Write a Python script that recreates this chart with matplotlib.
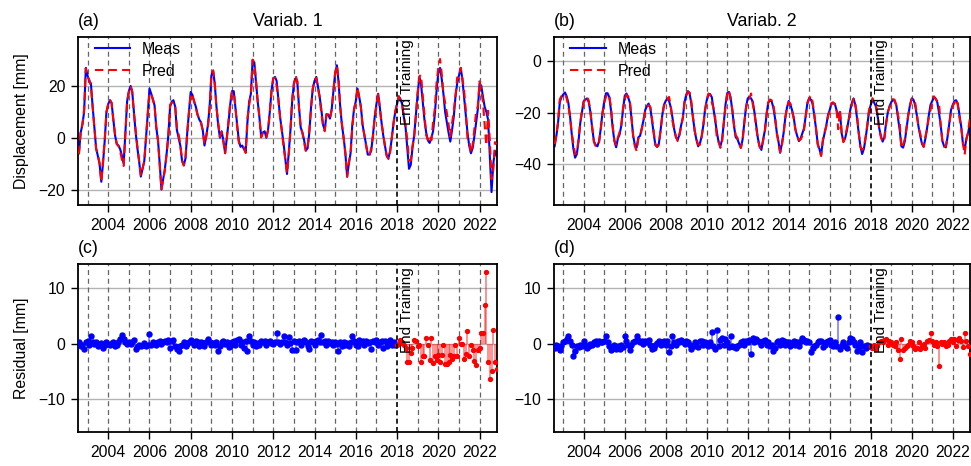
import numpy as np
import pandas as pd
import matplotlib
matplotlib.use("Agg")
import matplotlib.pyplot as plt
import matplotlib.dates as mdates

plt.rcParams['font.family'] = ['Liberation Sans', 'DejaVu Sans']
plt.rcParams['font.size'] = 11.3

# ---------------- data (monthly, Aug 2002 - Nov 2022) ----------------
dates = pd.date_range('2002-08-01', '2022-11-01', freq='MS')
end_training = pd.Timestamp('2018-01-01')

meas_1 = [
    -6, 2, 5, 10, 27,
    24, 22, 21, 12, 4, -4, -7, -10, -17, -10, -1, 10,
    13, 14.5, 13.5, 7, 1, -2.5, -3, -4.5, -7, -10, 2, 14,
    18, 20, 18, 10, 2, -4, -9, -15, -12, -9, 0, 9,
    19, 17, 15, 12.5, 4, -1, -10, -20, -16, -12, -6, 1,
    12, 14, 14.5, 12, 3, 0, -3, -9, -10.5, -8, 2, 10,
    17.7, 16.5, 14, 12, 9, 7, 6, 3, -3, 0.5, 5, 12,
    24, 26, 21, 12, 5, 0, 2.5, -1, -6, 0, 6, 13,
    18, 18, 12, 5, -1, -3.5, -3, -4.5, -5.4, 6, 14, 17,
    30, 29, 22, 14, 8, 0.5, 2, 2.5, 0, 3, 10, 18,
    23, 23.5, 22, 15, 8, 3, -2, -8, -14, -6, 3, 14,
    21, 23, 22, 12, 4, 2, -1, -5, -4, 2, 12, 19,
    22, 23.5, 20, 16, 11, 5, 3, 9, 9, 7.4, 11, 18,
    25, 28, 22, 12, 5, 0, -6, -15, -10, -6, 5, 11,
    14, 19, 16, 12, 5, 1, -2.5, -6.5, -6.5, -5, 1, 8,
    13, 17, 12, 6, 1, -3, -7, -8, -5, 0, 6, 10,
    13, 16, 15, 13, 8, 4, -4, -12, -10.5, -4, 1, 9,
    17, 23.5, 21, 14, 7, 2, -1, -2, 0, 2.5, 9, 18,
    25, 27, 23, 17, 10, 6, 2, -1.5, 3, 8, 16, 21,
    24, 27, 23, 16, 9, 2, -3, -6, -4, 0.5, 6, 11,
    21, 20, 16, 12, 10, 7, -7, -21, -10, -5, -7,
]

resid_1 = [
    0.3, -0.4, -0.2, -1.0, 0.2,
    0.4, -0.3, 1.3, 0.2, -0.1, 0.3, -0.5, -0.2, 0.1, -0.8, -0.3, 0.2,
    0.0, -0.2, 0.1, 0.3, -0.4, -0.2, 0.2, 0.8, 1.6, 0.9, 0.2, -0.1,
    0.3, 0.0, 0.2, 0.6, -1.0, -0.6, -0.3, -0.5, -0.2, 0.1, -0.4, -0.2,
    1.7, -0.2, 0.3, 0.1, -0.3, 0.2, 0.4, -0.1, 0.3, 0.5, 0.2, 0.6,
    -0.8, 0.5, 0.7, -0.5, -0.9, -1.3, -0.4, -0.2, 0.3, -0.4, -0.1, 0.2,
    0.6, 0.3, -0.2, 0.5, 0.2, -0.4, 0.3, 0.1, -0.5, 0.2, 0.9, 0.2,
    -0.3, 0.1, -0.2, 0.3, -1.3, -0.4, 0.2, 0.5, -0.1, 0.3, -0.6, -0.5,
    0.2, 0.4, -0.3, 0.6, 0.8, -0.2, 0.3, -0.8, 0.5, -1.3, 1.3, 0.4,
    -0.2, 0.3, -0.4, 0.1, -0.2, 0.4, 0.2, 0.5, -0.3, 0.2, 0.4, 0.1,
    0.0, 0.3, 1.9, 0.2, -0.1, 0.3, 1.4, 0.2, -0.3, 1.2, 0.1, -1.1,
    0.4, -1.1, 0.3, 0.5, -0.2, 0.2, 0.6, 0.3, -0.4, -1.0, 0.5, 0.2,
    -0.3, 0.4, 0.6, 0.2, 1.6, 0.3, 0.5, -0.2, 0.4, 0.1, 0.3, -0.3,
    0.2, 0.0, -1.3, 0.2, -0.4, 0.3, -0.2, 0.1, -0.5, 0.2, 1.3, 0.4,
    -0.2, -0.5, 0.6, 0.2, 0.4, -0.3, 0.5, 0.1, 0.3, -1.0, 0.4, 0.2,
    0.6, -0.3, 0.3, 0.5, -0.8, 0.4, -0.4, 0.2, 0.6, -0.2, 0.3, -0.3,
    -0.2, 0.0, 0.7, 0.3, -0.2, -0.8, -3.3, -3.3, -1.7, -0.8, 0.7, 0.4,
    -0.5, -0.2, -3.3, -2.3, -2.2, 1.0, -0.2, -3.0, 1.0, -3.5, -2.3, -3.0,
    -2.0, -3.4, -2.0, -0.2, -3.6, -3.6, -3.3, -2.0, -2.7, -2.2, -0.2, -2.3,
    1.0, 0.0, 0.0, -2.7, -1.9, 2.2, -2.2, -0.2, -1.1, -3.1, -3.9, -1.1,
    -0.8, 2.0, 2.0, 7.0, 13.0, -3.4, -6.4, -5.0, 2.5, -3.3, -4.5,
]

meas_2 = [
    -33, -29, -24, -16, -14,
    -13, -12.2, -13.5, -16, -21, -28, -34, -37.4, -36, -31, -24, -19.7,
    -15.5, -15, -14.5, -16, -20, -26, -31, -32.5, -33, -31, -26, -20,
    -15.8, -12.5, -12.5, -14, -19, -26, -31, -33.4, -30, -28.5, -25, -19,
    -13.5, -12.6, -14, -16, -22, -29, -32.5, -33.5, -29.5, -29, -26, -23,
    -19, -17.5, -16.5, -18, -23, -28, -32.5, -33.2, -32, -27, -21, -17,
    -15.5, -14.5, -15.5, -18, -22, -26.5, -29.5, -30.6, -28.5, -25, -22, -16,
    -13, -11.7, -12.5, -16.5, -22, -27, -30.5, -33, -32, -29.3, -25, -19,
    -15.2, -13, -12.8, -14, -18.5, -23, -27.5, -31.5, -33, -30.5, -24, -17,
    -12.5, -12, -13.9, -19, -25, -29.5, -30.2, -32, -33.5, -30.5, -24, -18,
    -14.5, -14, -14.5, -15.8, -20, -25, -30, -33, -34.4, -30.5, -27, -21,
    -16, -15.4, -15.5, -18, -22, -27.5, -31, -35.5, -32, -28, -22, -18,
    -15.5, -17, -19, -22, -26.7, -29, -31, -30, -28, -26, -21, -16,
    -14.3, -15, -16.5, -21, -26, -32, -34, -36.4, -31, -28, -25, -21,
    -19, -16.5, -16.5, -16.5, -19, -21.6, -19.7, -28, -31.2, -30, -27, -23,
    -19, -16, -14.5, -17, -22, -28, -33, -36, -34, -30, -25, -19.5,
    -17, -15.2, -16, -17.5, -21, -26, -29, -31.2, -29.5, -24, -20, -17.5,
    -16, -15, -15.5, -17, -22, -26.7, -33, -33.5, -31, -26, -21, -17,
    -14.5, -15, -17, -21, -25.4, -29, -32, -33.2, -30, -26, -21, -17,
    -15.5, -14, -14.5, -16, -20, -25, -31, -33, -33.4, -29.3, -24, -19,
    -17, -15.5, -15.2, -16.5, -21, -25.4, -32, -34.4, -30, -28, -24.2,
]

resid_2 = [
    -0.8, -0.3, -0.5, -1.1, -0.4,
    0.2, 0.5, 0.8, 1.3, 0.4, -0.3, -2.3, -1.4, -0.5, -0.6, -0.2, -0.4,
    0.5, -0.3, -0.8, -0.5, 0.0, -0.2, 0.3, 0.4, -0.1, 0.5, 0.2, 0.3,
    0.4, 1.4, 0.2, -0.5, -1.1, -0.8, -0.3, -1.0, -0.4, -0.9, -0.2, -0.6,
    1.3, 0.5, -0.3, -1.1, -0.2, 0.3, 0.5, 1.3, 0.6, 0.2, 0.4, -0.1,
    0.5, 0.3, 0.6, -0.2, -1.0, -0.8, -0.3, 0.1, 0.4, -0.2, 0.3, 0.5,
    -0.2, 0.4, -1.6, -0.5, 1.3, 0.2, -0.3, 0.4, 0.3, 0.6, 0.2, -0.1,
    0.5, 0.3, -0.3, -1.0, -0.4, 0.2, -0.5, -0.6, 0.4, 0.5, -0.2, 0.3,
    0.0, -0.4, 0.3, 2.1, -0.4, -1.0, 2.5, -0.5, 0.6, 1.1, -0.2, 0.8,
    0.3, -0.7, 1.3, -0.4, -0.6, -0.8, -0.5, -0.3, 0.2, 0.5, -0.2, 0.4,
    0.3, 0.6, -1.9, 1.0, 0.2, 0.8, 0.5, 0.3, -0.2, 0.4, 0.6, -0.3,
    0.2, -0.5, -0.3, -1.4, -0.8, 0.3, 0.5, -0.2, 0.6, 0.4, -0.3, 0.2,
    0.3, -0.4, 0.1, 0.5, -0.2, 0.3, -0.5, 0.4, 1.0, 0.6, 0.2, 0.5,
    0.3, -1.6, -0.8, -0.4, -0.2, 0.3, 0.5, 0.4, -0.6, -0.3, 0.2, 0.5,
    0.6, -0.2, -0.5, 0.3, -0.4, 4.8, -0.9, -0.3, 0.2, -0.5, -0.8, 0.3,
    1.0, 0.8, 0.2, -0.3, -1.4, -0.6, 0.3, -1.6, -0.4, -0.8, -0.2, -0.5,
    -0.5, -0.8, -0.2, -1.0, -0.5, 0.3, 0.5, 0.2, 0.7, 0.8, -0.3, 0.5,
    0.3, -0.2, -0.5, 0.2, -1.2, -2.8, 0.8, -1.2, -0.8, -0.5, -0.3, 0.5,
    0.2, -0.5, -1.0, -0.8, 0.3, -1.0, -0.5, 0.0, -0.8, 0.4, 0.6, 2.0,
    0.5, -0.3, 0.2, -0.5, -4.0, 0.3, 0.0, 0.2, -0.5, -0.3, 0.5, 0.8,
    0.3, 0.8, -0.5, 0.6, 1.0, 0.4, -0.7, 1.9, 0.5, -0.5, -1.8,
]

titles = ['Variab. 1', 'Variab. 2']
top_labels = ['(a)', '(b)']
bottom_labels = ['(c)', '(d)']
top_yticks = [[-20, 0, 20], [-40, -20, 0]]
top_ylims = [(-26, 39), (-55.7, 9.3)]
res_yticks = [-10, 0, 10]
res_ylim = (-16, 14.3)

# ---------------- figure ----------------
fig = plt.figure(figsize=(9.71, 4.66), dpi=100)
axes_top = [fig.add_axes([0.0803, 0.560, 0.4315, 0.361]),
            fig.add_axes([0.5702, 0.560, 0.4288, 0.361])]
axes_bot = [fig.add_axes([0.0803, 0.0723, 0.4315, 0.3605]),
            fig.add_axes([0.5702, 0.0723, 0.4288, 0.3605])]

train = dates < end_training
test = ~train
xlim = (pd.Timestamp('2002-07-15'), pd.Timestamp('2022-11-05'))
year_lines = pd.date_range('2003-01-01', '2022-01-01', freq='YS')


def decorate(ax):
    for d in year_lines:
        if d == end_training:
            continue
        ax.axvline(d, color='0.4', lw=0.9, ls=(0, (4, 3)), zorder=1)
    ax.axvline(end_training, color='black', lw=1.2, ls=(0, (3, 2)), zorder=4)
    ax.annotate('End Training', xy=(mdates.date2num(end_training), 1.0),
                xycoords=('data', 'axes fraction'), xytext=(2, -2),
                textcoords='offset points', rotation=90, ha='left', va='top',
                fontsize=11, zorder=5)
    ax.yaxis.grid(True, color='0.7', lw=1.0, zorder=0)
    ax.set_axisbelow(True)
    ax.xaxis.set_major_locator(mdates.YearLocator(2))
    ax.xaxis.set_major_formatter(mdates.DateFormatter('%Y'))
    ax.set_xlim(xlim)
    ax.tick_params(direction='out', length=5, width=1, labelsize=11.3, pad=4)
    for s in ax.spines.values():
        s.set_linewidth(1.3)


meas_all = [np.array(meas_1, float), np.array(meas_2, float)]
resid_all = [np.array(resid_1, float), np.array(resid_2, float)]

for i in range(2):
    ax = axes_top[i]
    meas = meas_all[i]
    pred = meas - resid_all[i]
    ax.plot(dates, meas, color='#0000ff', lw=1.5, label='Meas', zorder=2)
    ax.plot(dates, pred, color='#ff0000', lw=1.5, ls=(0, (4, 2.5)), label='Pred', zorder=3)
    decorate(ax)
    ax.set_ylim(top_ylims[i])
    ax.set_yticks(top_yticks[i])
    ax.set_title(titles[i], fontsize=12.8, pad=8)
    ax.set_title(top_labels[i], loc='left', fontsize=12.8, pad=8)
    ax.legend(loc='upper left', bbox_to_anchor=(0.025, 1.01), frameon=False,
              handlelength=2.2, handletextpad=0.75, fontsize=11.5,
              borderaxespad=0.0, borderpad=0.4, labelspacing=0.46)

    axb = axes_bot[i]
    res = resid_all[i]
    axb.vlines(dates[train], 0, res[train], color='#0000ff', alpha=0.5, lw=1.2, zorder=2)
    axb.plot(dates[train], res[train], 'o', color='#0000ff', ms=3.6, zorder=3)
    axb.vlines(dates[test], 0, res[test], color='#ff0000', alpha=0.5, lw=1.2, zorder=2)
    axb.plot(dates[test], res[test], 'o', color='#ff0000', ms=2.8, zorder=3)
    decorate(axb)
    axb.set_ylim(res_ylim)
    axb.set_yticks(res_yticks)
    axb.set_title(bottom_labels[i], loc='left', fontsize=12.8, pad=8)

axes_top[0].set_ylabel('Displacement [mm]', fontsize=11.4, labelpad=7)
axes_bot[0].set_ylabel('Residual [mm]', fontsize=11.4, labelpad=7)

fig.savefig('out.png', dpi=100)
